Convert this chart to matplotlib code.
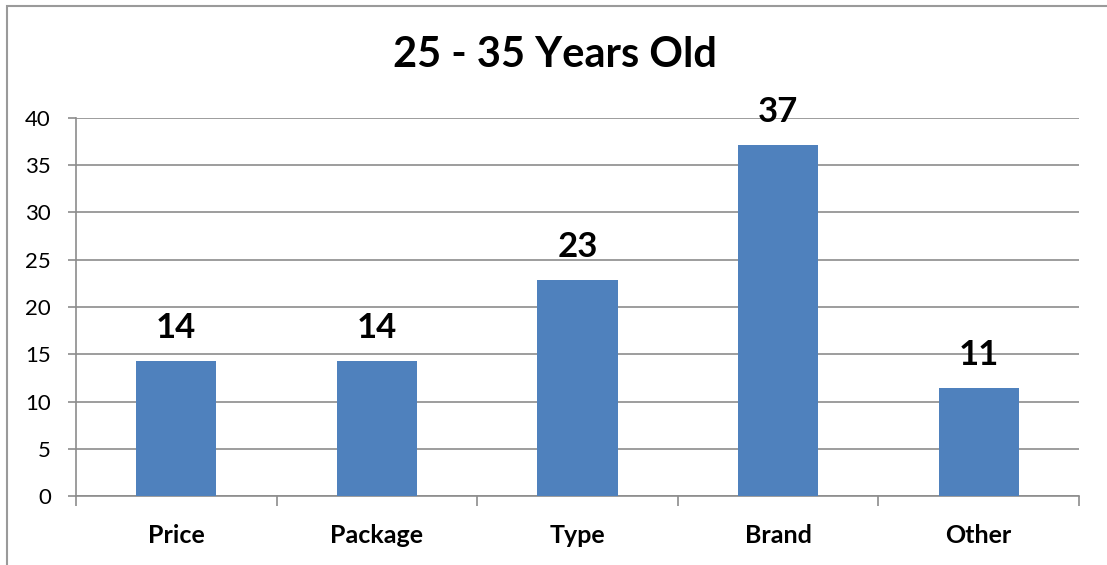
import matplotlib
matplotlib.use("Agg")
import matplotlib.pyplot as plt
from matplotlib.patches import Rectangle

# -- Data -----------------------------------------------------------------------
categories = ["Price", "Package", "Type", "Brand", "Other"]
values = [14.29, 14.29, 22.86, 37.14, 11.43]
labels = ["14", "14", "23", "37", "11"]
yticks = [0, 5, 10, 15, 20, 25, 30, 35, 40]
title = "25 - 35 Years Old"

BAR_COLOR = "#4F81BD"
GRID_COLOR = "#8C8C8C"

plt.rcParams["font.family"] = ["Lato", "DejaVu Sans"]

W, H = 1107, 565
fig = plt.figure(figsize=(W / 100, H / 100), dpi=100)

# chart border (runs off the right / bottom edge in the reference)
fig.patches.append(Rectangle((7 / W, -0.1), 1.2, 1 - 6 / H + 0.1,
                             transform=fig.transFigure, fill=False,
                             edgecolor="#9A9A9A", linewidth=1.5))

ax = fig.add_axes([76 / W, 1 - 496 / H, (1079 - 76) / W, (496 - 118) / H])

x = range(len(categories))
ax.bar(x, values, width=0.4, color=BAR_COLOR, zorder=3)
ax.set_xlim(-0.5, len(categories) - 0.5)
ax.set_ylim(0, 40)

ax.set_yticks(yticks)
ax.set_yticklabels([str(t) for t in yticks], fontsize=16)
ax.yaxis.grid(True, color=GRID_COLOR, linewidth=1.2, zorder=0)
ax.tick_params(axis="y", length=6, color=GRID_COLOR, width=1.2, pad=12)

# category labels in the middle, tick marks on the boundaries
ax.set_xticks(list(x))
ax.set_xticklabels(categories, fontsize=18, fontweight="bold")
ax.tick_params(axis="x", length=0, pad=20)
ax.set_xticks([i - 0.5 for i in range(len(categories) + 1)], minor=True)
ax.tick_params(axis="x", which="minor", length=7, color=GRID_COLOR, width=1.2)

for side in ["top", "right"]:
    ax.spines[side].set_visible(False)
for side in ["left", "bottom"]:
    ax.spines[side].set_color(GRID_COLOR)
    ax.spines[side].set_linewidth(1.2)

for i, (v, lab) in enumerate(zip(values, labels)):
    ax.annotate(lab, (i, v), xytext=(0, 24), textcoords="offset points",
                ha="center", va="center", fontsize=25, fontweight="bold",
                zorder=4)

fig.text(555 / W, 1 - 55 / H, title, ha="center", va="center",
         fontsize=30, fontweight="bold")

fig.savefig("out.png", dpi=100)
